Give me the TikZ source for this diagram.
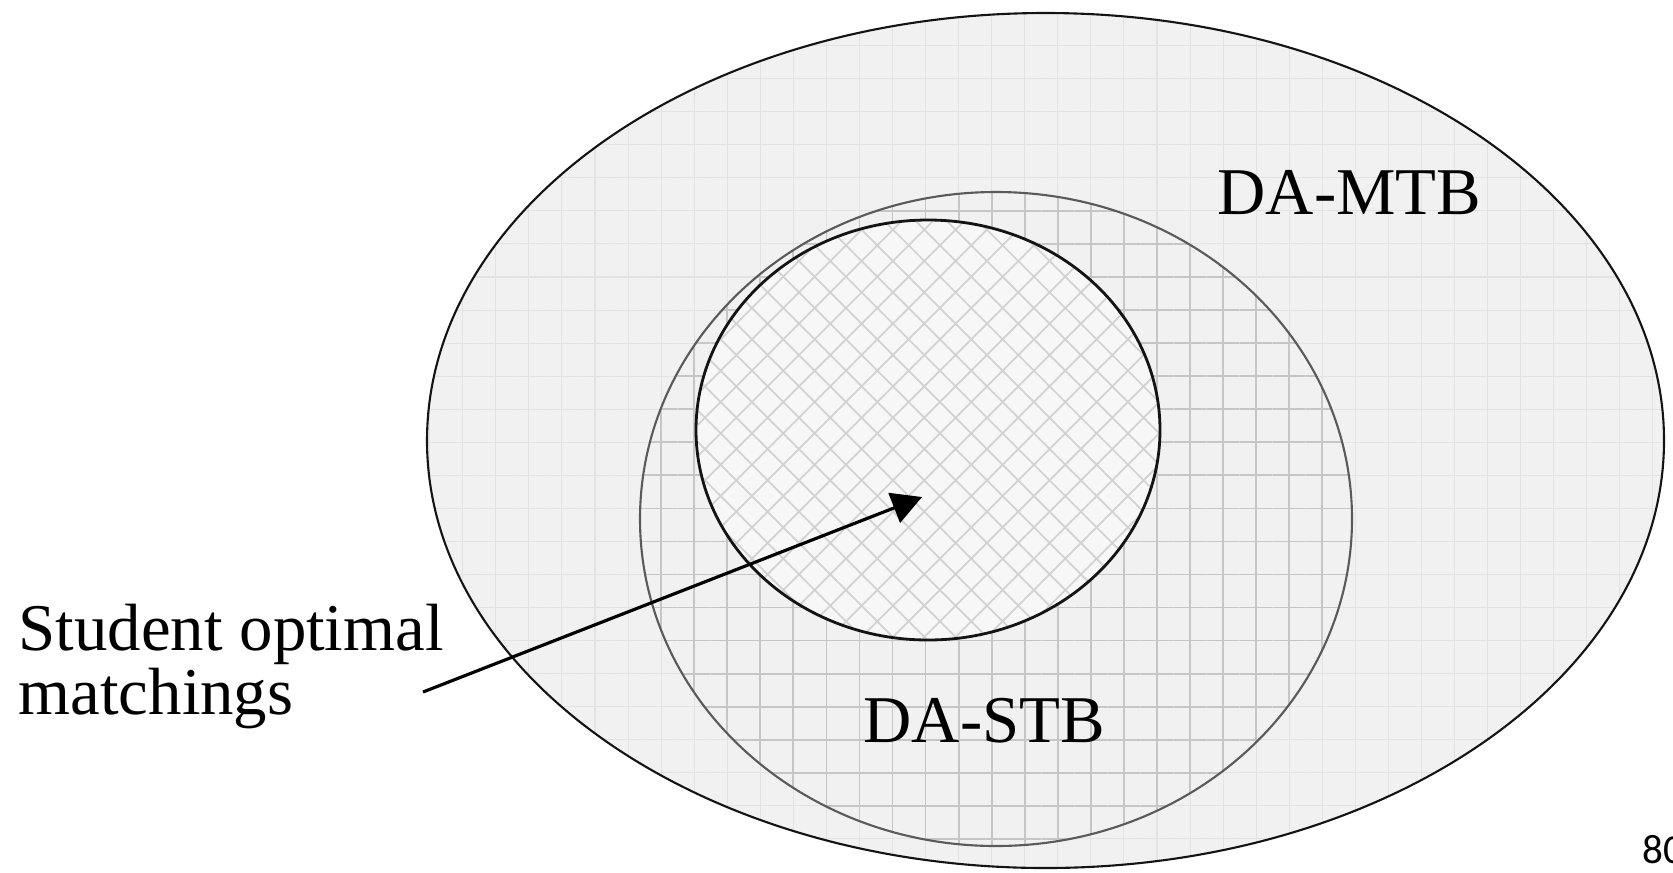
\documentclass[tikz,border=0pt]{standalone}
\usepackage{fontspec}
\setmainfont{Liberation Serif}
\newfontfamily\pagenofont{Carlito}
\usepackage{tikz}
\usetikzlibrary{arrows.meta,patterns.meta}
\definecolor{vline}{HTML}{141414}
\definecolor{vstb}{HTML}{5A5A5A}
\definecolor{vouter}{HTML}{F1F1F1}
\definecolor{vfaint}{HTML}{E3E3E3}
\definecolor{vgrid}{HTML}{C6C6C6}
\definecolor{vinner}{HTML}{F7F7F7}
\definecolor{vhatch}{HTML}{D2D2D2}
\tikzset{
  lbl/.style = {font=\fontsize{19}{16.2}\selectfont, inner sep=0pt, text=black},
  pno/.style = {font=\pagenofont\fontsize{11.7}{12}\selectfont, inner sep=0pt, text=black},
  a/.style   = {-{Triangle[length=8.5pt,width=9pt]}, line width=0.9pt, draw=black},
}

\begin{document}
\begin{tikzpicture}[x=0.01cm, y=-0.01cm]
\useasboundingbox (0,0) rectangle (1673,872);

\coordinate (mtbc) at (1045.5,440.5);
\coordinate (stbc) at (996,519);
\coordinate (somc) at (928,430);

% sets, largest first
\fill[vouter, postaction={pattern={Hatch[angle=0,distance=9.4pt,line width=0.3pt]}, pattern color=vfaint}]
  (mtbc) ellipse [x radius=618.5, y radius=427.5];
\fill[vouter, postaction={pattern={Hatch[angle=0,distance=9.4pt,line width=0.5pt]}, pattern color=vgrid}]
  (stbc) ellipse [x radius=356, y radius=327];
\fill[vinner, postaction={pattern={Hatch[angle=45,distance=6.3pt,line width=0.5pt]}, pattern color=vhatch}]
  (somc) ellipse [x radius=232, y radius=210];

\draw[vline, line width=0.6pt] (mtbc) ellipse [x radius=618.5, y radius=427.5];
\draw[vstb, line width=0.6pt]  (stbc) ellipse [x radius=356, y radius=327];
\draw[vline, line width=0.8pt] (somc) ellipse [x radius=232, y radius=210];

\node[lbl, anchor=base west] (mtb) at (1217,214) {DA-MTB};
\node[lbl, anchor=base west] (stb) at (863,742) {DA-STB};
\node[lbl, anchor=north west, align=left] (som) at (18,603) {Student optimal\\matchings};

\coordinate (tail) at (423,692);
\coordinate (tip)  at (922,497);
\draw[a] (tail) -- (tip);

\node[pno, anchor=base west] (pg) at (1642,863) {80};

\end{tikzpicture}
\end{document}
